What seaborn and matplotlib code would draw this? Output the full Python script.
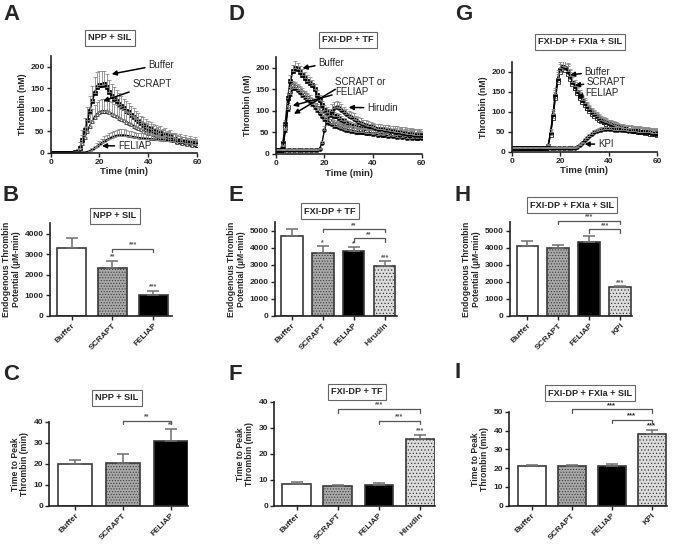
import numpy as np
import pandas as pd
import matplotlib
matplotlib.use("Agg")
import matplotlib.pyplot as plt
import seaborn as sns

sns.set_theme(style="ticks")
plt.rcParams['font.family'] = ['Liberation Sans', 'DejaVu Sans']
plt.rcParams['font.weight'] = 'bold'
plt.rcParams['axes.labelweight'] = 'bold'
plt.rcParams['hatch.linewidth'] = 0.5

# ---------------- time courses (thrombin, nM) ----------------
minutes = list(range(0, 61))

a_buffer = [0, 0, 0, 0, 0, 0, 0, 0, 0, 0, 1,
            3, 12, 30, 52, 75, 98, 120, 140, 153, 158,
            158, 160, 152, 142, 133, 126, 120, 114, 108, 104,
            98, 94, 88, 83, 78, 73, 68, 64, 60, 57,
            55, 50, 49, 44, 46, 40, 42, 36, 38, 33,
            32, 27, 30, 24, 28, 22, 26, 20, 24, 19]
a_buffer_err = [0, 0, 0, 0, 0, 0, 0, 0, 0, 0, 2,
                5, 12, 22, 28, 32, 35, 36, 36, 34, 32,
                32, 30, 30, 28, 27, 26, 25, 24, 23, 22,
                22, 21, 20, 20, 19, 19, 18, 18, 18, 17,
                17, 17, 16, 16, 16, 15, 15, 15, 15, 14,
                14, 14, 14, 13, 13, 13, 12, 12, 12, 12]
a_scrapt = [0, 0, 0, 0, 0, 0, 0, 0, 0, 0, 1,
            3, 10, 22, 36, 50, 63, 74, 84, 91, 95,
            97, 97, 96, 94, 91, 88, 85, 81, 78, 75,
            72, 69, 66, 63, 60, 57, 54, 51, 49, 47,
            45, 43, 41, 39, 37, 36, 34, 33, 31, 30,
            29, 25, 27, 23, 25, 21, 23, 19, 21, 18]
a_scrapt_err = [0, 0, 0, 0, 0, 0, 0, 0, 0, 0, 2,
                6, 14, 20, 24, 26, 28, 28, 28, 28, 28,
                28, 28, 27, 27, 26, 26, 25, 25, 24, 24,
                23, 23, 22, 22, 21, 21, 20, 20, 19, 19,
                18, 18, 17, 17, 16, 16, 15, 15, 15, 14,
                14, 13, 13, 13, 12, 12, 12, 11, 11, 11]
a_feliap = [0, 0, 0, 0, 0, 0, 0, 0, 0, 0, 0, 0, 0, 0, 0,
            1, 3, 6, 10, 14, 18,
            22, 26, 29, 32, 35, 37, 39, 40, 40, 40,
            39, 38, 37, 36, 35, 34, 33, 33, 32, 32,
            31, 31, 30, 30, 29, 29, 28, 28, 27, 27,
            26, 25, 25, 24, 23, 23, 22, 21, 21, 20]
a_feliap_err = [0, 0, 0, 0, 0, 0, 0, 0, 0, 0, 0, 0, 0, 0, 0,
                1, 2, 4, 6, 8, 10,
                11, 12, 13, 13, 14, 14, 14, 14, 14, 14,
                13, 13, 13, 13, 12, 12, 12, 12, 12, 11,
                11, 11, 11, 11, 10, 10, 10, 10, 10, 10,
                9, 9, 9, 9, 9, 8, 8, 8, 8, 8]

d_buffer = [10, 10, 10, 25, 70, 130, 170, 192, 200, 197, 190,
            183, 176, 170, 165, 160, 150, 138, 125, 113, 103,
            98, 94, 91, 89, 87, 84, 80, 76, 72, 68,
            66, 64, 62, 61, 60, 58, 57, 56, 55, 54,
            55, 50, 54, 49, 52, 47, 51, 46, 50, 45,
            49, 44, 47, 42, 46, 41, 45, 40, 44, 42]
d_buffer_err = [1, 1, 1, 4, 8, 12, 14, 15, 15, 15, 15,
                14, 14, 13, 13, 12, 12, 11, 11, 10, 10,
                10, 10, 9, 9, 9, 9, 9, 8, 8, 8,
                8, 8, 8, 8, 8, 8, 8, 8, 8, 8,
                8, 9, 9, 9, 10, 10, 10, 11, 11, 11,
                12, 12, 12, 13, 13, 13, 13, 12, 12, 12]
d_scrapt = [10, 10, 10, 20, 60, 110, 145, 157, 156, 151, 146,
            141, 136, 131, 126, 120, 113, 106, 98, 91, 85,
            80, 76, 73, 70, 68, 66, 64, 62, 60, 58,
            57, 56, 55, 54, 53, 52, 52, 51, 50, 50,
            51, 46, 50, 45, 49, 44, 48, 43, 47, 42,
            46, 41, 45, 40, 44, 39, 43, 38, 42, 40]
d_feliap = [10, 10, 10, 18, 55, 105, 140, 153, 152, 148, 143,
            138, 133, 128, 122, 116, 109, 101, 94, 87, 81,
            76, 72, 69, 66, 64, 62, 60, 58, 56, 55,
            54, 53, 52, 51, 50, 50, 49, 48, 48, 47,
            48, 44, 47, 43, 46, 42, 45, 41, 44, 40,
            43, 39, 42, 38, 41, 37, 40, 36, 39, 37]
d_inhib_err = [1, 1, 1, 3, 6, 9, 11, 12, 12, 12, 12,
               11, 11, 11, 10, 10, 10, 9, 9, 9, 9,
               9, 9, 8, 8, 8, 8, 8, 8, 8, 8,
               8, 8, 8, 8, 8, 8, 8, 8, 8, 8,
               8, 9, 9, 9, 9, 10, 10, 10, 10, 10,
               11, 11, 11, 11, 12, 12, 12, 12, 12, 12]
d_hirudin = [10, 10, 10, 10, 10, 10, 10, 10, 10, 10, 10, 10, 10, 10, 10, 10, 10, 10,
             12, 25, 55,
             75, 90, 100, 106, 108, 106, 102, 97, 92, 88,
             85, 82, 78, 75, 72, 70, 68, 66, 64, 62,
             60, 59, 58, 57, 56, 55, 54, 53, 52, 51,
             50, 49, 48, 47, 47, 46, 45, 45, 44, 44]
d_hirudin_err = [1, 1, 1, 1, 1, 1, 1, 1, 1, 1, 1, 1, 1, 1, 1, 1, 1, 1,
                 2, 5, 10,
                 12, 14, 15, 15, 15, 14, 14, 13, 13, 12,
                 12, 12, 11, 11, 11, 10, 10, 10, 10, 10,
                 10, 10, 11, 11, 12, 12, 12, 13, 13, 13,
                 13, 14, 14, 14, 14, 14, 13, 13, 13, 13]

g_buffer = [10, 10, 10, 10, 10, 10, 10, 10, 10, 10, 10, 10, 10, 10, 10,
            15, 45, 90, 140, 180, 205,
            212, 208, 198, 185, 172, 160, 148, 137, 127, 118,
            110, 103, 97, 91, 86, 82, 78, 75, 72, 69,
            67, 65, 63, 61, 59, 58, 56, 55, 54, 53,
            52, 51, 50, 49, 48, 47, 46, 45, 44, 43]
g_scrapt = [10, 10, 10, 10, 10, 10, 10, 10, 10, 10, 10, 10, 10, 10, 10,
            14, 42, 85, 135, 175, 200,
            207, 204, 195, 182, 170, 158, 146, 135, 125, 116,
            108, 101, 95, 89, 84, 80, 76, 73, 70, 67,
            65, 63, 61, 59, 58, 56, 55, 54, 53, 52,
            51, 50, 49, 48, 47, 46, 45, 44, 43, 42]
g_feliap = [10, 10, 10, 10, 10, 10, 10, 10, 10, 10, 10, 10, 10, 10, 10,
            16, 48, 95, 145, 185, 208,
            215, 211, 201, 188, 175, 163, 151, 140, 130, 121,
            113, 106, 100, 94, 89, 84, 80, 77, 74, 71,
            69, 67, 65, 63, 61, 59, 58, 57, 56, 55,
            54, 53, 52, 51, 50, 49, 48, 47, 46, 45]
g_err = [1, 1, 1, 1, 1, 1, 1, 1, 1, 1, 1, 1, 1, 1, 1,
         3, 8, 12, 15, 18, 20,
         22, 22, 20, 18, 16, 15, 14, 13, 12, 12,
         11, 11, 10, 10, 10, 9, 9, 9, 9, 9,
         9, 9, 9, 9, 9, 9, 9, 10, 10, 10,
         10, 10, 11, 11, 11, 12, 12, 12, 13, 13]
g_kpi = [10] * 27 + [12, 16, 22, 29,
                     35, 40, 44, 48, 51, 53, 55, 56, 56, 56,
                     56, 55, 55, 54, 54, 53, 53, 52, 52, 51,
                     51, 50, 50, 49, 49, 48, 48, 47, 47, 46]
g_kpi_err = [1] * 27 + [1, 2, 3, 4,
                        5, 5, 6, 6, 6, 6, 6, 6, 6, 6,
                        6, 6, 6, 7, 7, 7, 7, 7, 7, 7,
                        7, 8, 8, 8, 8, 8, 8, 8, 8, 8]

# ---------------- bar data ----------------
cats_3 = ["Buffer", "SCRAPT", "FELIAP"]
cats_hir = ["Buffer", "SCRAPT", "FELIAP", "Hirudin"]
cats_kpi = ["Buffer", "SCRAPT", "FELIAP", "KPI"]

etp_npp = [3280, 2340, 1030]
etp_npp_err = [490, 320, 170]
etp_tf = [4720, 3720, 3820, 2930]
etp_tf_err = [360, 360, 210, 270]
etp_fxia = [4080, 3980, 4330, 1680]
etp_fxia_err = [290, 160, 350, 40]

ttp_npp = [19.8, 20.5, 31.0]
ttp_npp_err = [2.2, 4.2, 5.7]
ttp_tf = [8.3, 7.6, 8.0, 25.8]
ttp_tf_err = [0.7, 0.4, 0.6, 1.4]
ttp_fxia = [21.0, 21.0, 21.0, 38.3]
ttp_fxia_err = [0.5, 0.5, 1.0, 2.0]

W, H = 675, 545
fig = plt.figure(figsize=(W / 100, H / 100), dpi=100)


def rect(l, t, r, b):
    return [l / W, 1 - b / H, (r - l) / W, (b - t) / H]


def style_axes(ax):
    sns.despine(ax=ax)
    for s in ["left", "bottom"]:
        ax.spines[s].set_linewidth(1.2)
        ax.spines[s].set_color("#222222")
    ax.tick_params(labelsize=6, width=1, length=3, direction="out", pad=1.5,
                   color="#222222")


def time_panel(ax, series, ylim):
    for vals, err, marker, mfc, lw in series:
        sns.lineplot(x=minutes, y=vals, ax=ax, color="black", marker=marker,
                     markersize=2.6, markerfacecolor=mfc, markeredgecolor="black",
                     markeredgewidth=0.5, linewidth=lw)
        ax.errorbar(minutes, vals, yerr=[np.zeros(len(err)), err], fmt="none",
                    ecolor="#8a8a8a", elinewidth=0.6, capsize=1.2, capthick=0.6)
    ax.set_xlim(0, 60)
    ax.set_ylim(*ylim)
    ax.set_xticks([0, 20, 40, 60])
    ax.set_yticks([0, 50, 100, 150, 200])
    ax.set_xlabel("Time (min)", fontsize=6.8, labelpad=1)
    ax.set_ylabel("Thrombin (nM)", fontsize=6.3, labelpad=2)
    style_axes(ax)


def bar_panel(ax, cats, means, errs, ylim, yticks, xlim, ylabel, stars, brackets, star_kw):
    face = {"Buffer": "white", "SCRAPT": "#a9a9a9", "FELIAP": "black",
            "Hirudin": "#dcdcdc", "KPI": "#dcdcdc"}
    hatch = {"Buffer": "", "SCRAPT": "......", "FELIAP": "",
             "Hirudin": ".....", "KPI": "....."}
    df = pd.DataFrame({"cond": cats, "val": means})
    sns.barplot(data=df, x="cond", y="val", hue="cond",
                palette=[face[c] for c in cats], width=0.7,
                edgecolor="#3a3a3a", linewidth=1.2, legend=False, ax=ax,
                saturation=1)
    for p, c in zip(ax.patches, cats):
        p.set_hatch(hatch[c])
    n = len(cats)
    ax.errorbar(range(n), means, yerr=[np.zeros(n), errs], fmt="none",
                ecolor="#6f6f6f", elinewidth=1.1, capsize=4, capthick=1.1, zorder=1)
    span = ylim[1] - ylim[0]
    for i, s in enumerate(stars):
        if s:
            ax.text(i, means[i] + errs[i] + 0.005 * span, s, ha="center", va="bottom",
                    **star_kw)
    for x1, x2, y, s in brackets:
        h = 0.035 * span
        ax.plot([x1, x1, x2, x2], [y - h, y, y, y - h], color="#555555",
                lw=0.9, clip_on=False)
        ax.text((x1 + x2) / 2, y + 0.003 * span, s, ha="center", va="bottom", **star_kw)
    ax.set_xlim(*xlim)
    ax.set_ylim(*ylim)
    ax.set_yticks(yticks)
    ax.set_xlabel("")
    ax.set_ylabel(ylabel, fontsize=6.2, labelpad=3, linespacing=1.1)
    ax.set_xticks(range(n))
    ax.set_xticklabels(cats, rotation=45, ha="right", rotation_mode="anchor", fontsize=6.8)
    style_axes(ax)


def title_box(x, y, txt):
    fig.text(x / W, 1 - y / H, txt, ha="center", va="center", fontsize=6.6,
             fontweight="bold",
             bbox=dict(boxstyle="square,pad=0.35", fc="white", ec="#666666", lw=0.8))


def letter(x, y, txt):
    fig.text(x / W, 1 - y / H, txt, ha="left", va="center", fontsize=16,
             fontweight="bold")


arrow = dict(arrowstyle="-|>", color="black", lw=1.1, mutation_scale=7,
             shrinkA=0, shrinkB=0)
ann_kw = dict(fontsize=7, fontweight="normal", va="center", ha="left")

# ---- A ----
axA = fig.add_axes(rect(50.7, 56, 197, 152.7))
time_panel(axA, [(a_buffer, a_buffer_err, "s", "black", 1.3),
                 (a_scrapt, a_scrapt_err, "^", "white", 1.0),
                 (a_feliap, a_feliap_err, None, "black", 1.8)], (0, 225))
axA.annotate("Buffer", xy=(25, 183), xytext=(40, 205), arrowprops=arrow, **ann_kw)
axA.annotate("SCRAPT", xy=(21.5, 120), xytext=(33.5, 160), arrowprops=arrow, **ann_kw)
axA.annotate("FELIAP", xy=(21, 16), xytext=(27.5, 16), arrowprops=arrow, **ann_kw)

# ---- D ----
axD = fig.add_axes(rect(275.7, 57, 421.7, 154))
time_panel(axD, [(d_buffer, d_buffer_err, "s", "black", 1.3),
                 (d_scrapt, d_inhib_err, "s", "white", 1.0),
                 (d_feliap, d_inhib_err, "^", "black", 1.0),
                 (d_hirudin, d_hirudin_err, "o", "black", 1.0)], (0, 225))
axD.annotate("Buffer", xy=(11, 199), xytext=(17.5, 212), arrowprops=arrow, **ann_kw)
axD.annotate("SCRAPT or\nFELIAP", xy=(7, 112), xytext=(24.5, 155), arrowprops=arrow,
             linespacing=1.0, **ann_kw)
axD.annotate("", xy=(7.5, 93), xytext=(24.5, 150), arrowprops=arrow)
axD.annotate("Hirudin", xy=(30, 108), xytext=(37.5, 107), arrowprops=arrow, **ann_kw)

# ---- G ----
axG = fig.add_axes(rect(511.7, 61.7, 657.3, 151.7))
time_panel(axG, [(g_buffer, g_err, "s", "black", 1.0),
                 (g_scrapt, g_err, "s", "white", 1.0),
                 (g_feliap, g_err, "^", "black", 1.0),
                 (g_kpi, g_kpi_err, "o", "black", 1.0)], (0, 225))
axG.annotate("Buffer", xy=(24, 192), xytext=(30, 200), arrowprops=arrow, **ann_kw)
axG.annotate("SCRAPT", xy=(26, 166), xytext=(31, 175), arrowprops=arrow, **ann_kw)
axG.annotate("FELIAP", xy=(27, 138), xytext=(30.5, 147), arrowprops=arrow, **ann_kw)
axG.annotate("KPI", xy=(30, 19), xytext=(35.5, 19), arrowprops=arrow, **ann_kw)

etp_label = "Endogenous Thrombin\nPotential (\u00b5M-min)"
ttp_label = "Time to Peak\nThrombin (min)"
small_star = dict(fontsize=5, color="#555555")
big_star = dict(fontsize=5.5, color="#222222", fontweight="bold")

# ---- B, E, H ----
axB = fig.add_axes(rect(50, 223.3, 171.7, 315.7))
bar_panel(axB, cats_3, etp_npp, etp_npp_err, (0, 4500), [0, 1000, 2000, 3000, 4000],
          (-0.53, 2.45), etp_label, ["", "**", "***"], [(1, 2, 3270, "***")], small_star)
axE = fig.add_axes(rect(275, 222.3, 397, 315.7))
bar_panel(axE, cats_hir, etp_tf, etp_tf_err, (0, 5500), [0, 1000, 2000, 3000, 4000, 5000],
          (-0.54, 3.4), etp_label, ["", "*", "*", "***"],
          [(1, 3, 5100, "**"), (2, 3, 4550, "**")], small_star)
axH = fig.add_axes(rect(510, 222.3, 631.7, 315.7))
bar_panel(axH, cats_kpi, etp_fxia, etp_fxia_err, (0, 5500), [0, 1000, 2000, 3000, 4000, 5000],
          (-0.56, 3.37), etp_label, ["", "", "", "***"],
          [(1, 3, 5600, "***"), (2, 3, 5080, "***")], small_star)

# ---- C, F, I ----
axC = fig.add_axes(rect(49.3, 421.7, 188, 505.7))
bar_panel(axC, cats_3, ttp_npp, ttp_npp_err, (0, 40), [0, 10, 20, 30, 40],
          (-0.54, 2.36), ttp_label, ["", "", "**"], [(1, 2, 40.5, "**")], small_star)
axF = fig.add_axes(rect(274.3, 401.7, 435, 505.7))
bar_panel(axF, cats_hir, ttp_tf, ttp_tf_err, (0, 40), [0, 10, 20, 30, 40],
          (-0.54, 3.36), ttp_label, ["", "", "", "***"],
          [(1, 3, 37.2, "***"), (2, 3, 32.7, "***")], small_star)
axI = fig.add_axes(rect(509.3, 411.7, 666.7, 505.7))
bar_panel(axI, cats_kpi, ttp_fxia, ttp_fxia_err, (0, 50), [0, 10, 20, 30, 40, 50],
          (-0.56, 3.37), ttp_label, ["", "", "", "***"],
          [(1, 3, 51.3, "***"), (2, 3, 45.6, "***")], big_star)

# ---- panel titles and letters ----
title_box(110, 38, "NPP + SIL")
title_box(348, 40, "FXI-DP + TF")
title_box(580, 42, "FXI-DP + FXIa + SIL")
title_box(115, 216, "NPP + SIL")
title_box(330, 211, "FXI-DP + TF")
title_box(572, 205, "FXI-DP + FXIa + SIL")
title_box(117, 398, "NPP + SIL")
title_box(357, 392, "FXI-DP + TF")
title_box(590, 393, "FXI-DP + FXIa + SIL")

letter(3, 15, "A")
letter(228, 15, "D")
letter(455, 15, "G")
letter(3, 195, "B")
letter(228, 195, "E")
letter(455, 195, "H")
letter(3, 374, "C")
letter(228, 374, "F")
letter(455, 372, "I")

fig.savefig("out.png", dpi=100)
